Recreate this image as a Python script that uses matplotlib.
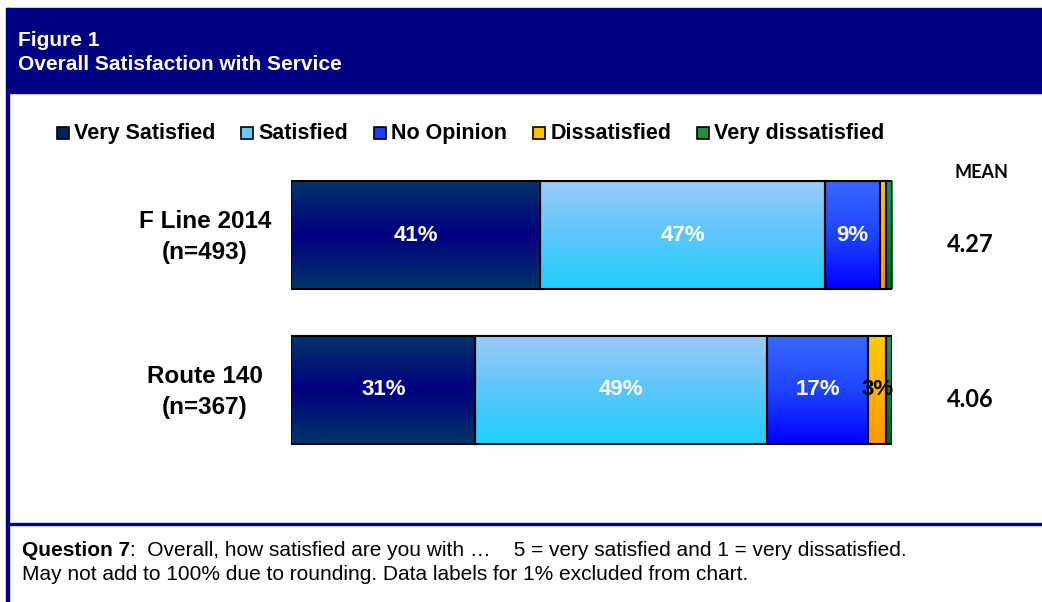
import numpy as np
import matplotlib
matplotlib.use("Agg")
import matplotlib.pyplot as plt
from matplotlib.colors import LinearSegmentedColormap
from matplotlib.patches import Rectangle

plt.rcParams["font.family"] = ["Liberation Sans", "DejaVu Sans"]

groupes = ["F Line 2014\n(n=493)", "Route 140\n(n=367)"]
categories = ["Very Satisfied", "Satisfied", "No Opinion", "Dissatisfied", "Very dissatisfied"]
f_line = [41, 47, 9, 1, 1]
route_140 = [31, 49, 17, 3, 1]
moyennes = ["4.27", "4.06"]

# couleurs en degrade (haut, milieu, bas) comme dans Excel
degrades = [
    ["#03366a", "#000080", "#03366a"],
    ["#9ccbfa", "#5cc6fb", "#1fd0fd"],
    ["#3a68ff", "#1f45ff", "#0000ff"],
    ["#ffcc00", "#ffb300", "#ff9900"],
    ["#2f8f5c", "#1a7a3c", "#006618"],
]
couleurs_legende = ["#002060", "#66ccff", "#1a3cff", "#ffc000", "#238c46"]
navy = "#000080"

W, H = 1042, 602
fig = plt.figure(figsize=(W / 100, H / 100), dpi=100)

# cadre : bandeau, bord gauche, ligne du bas
fig.patches.append(Rectangle((7 / W, 1 - 93 / H), 1 - 7 / W, 85 / H,
                             transform=fig.transFigure, color=navy, zorder=0))
fig.patches.append(Rectangle((6 / W, 0), 3 / W, 1 - 8 / H,
                             transform=fig.transFigure, color=navy, zorder=0))
fig.patches.append(Rectangle((7 / W, 1 - 525 / H), 1, 2 / H,
                             transform=fig.transFigure, color=navy, zorder=0))

fig.text(18 / W, 1 - 41 / H, "Figure 1", color="white", fontsize=15,
         fontweight="bold", va="center")
fig.text(18 / W, 1 - 64 / H, "Overall Satisfaction with Service", color="white",
         fontsize=15, fontweight="bold", va="center")

# axes des barres
ax = fig.add_axes([291 / W, 1 - 465 / H, 601 / W, 305 / H])
ax.set_axis_off()

lignes = [route_140, f_line]
noms = [groupes[1], groupes[0]]
moy = [moyennes[1], moyennes[0]]
gauche = np.zeros(2)
parts = []
for vals in lignes:
    v = np.array(vals, dtype=float)
    parts.append(v / v.sum() * 100)
parts = np.array(parts)

for j, cat in enumerate(categories):
    barres = ax.barh([0, 1], parts[:, j], left=gauche, height=0.7,
                     facecolor="none", edgecolor="black", linewidth=1.5, zorder=3)
    cmap = LinearSegmentedColormap.from_list(cat, degrades[j])
    for i, b in enumerate(barres):
        x0, y0 = b.get_x(), b.get_y()
        img = ax.imshow(np.linspace(0, 1, 256).reshape(-1, 1), cmap=cmap,
                        extent=[x0, x0 + b.get_width(), y0, y0 + b.get_height()],
                        origin="upper", aspect="auto", zorder=2)
        img.set_clip_path(b)
        val = lignes[i][j]
        if val > 1:
            coul = "black" if cat == "Dissatisfied" else "white"
            ax.text(x0 + b.get_width() / 2, i, f"{val}%", ha="center", va="center",
                    color=coul, fontsize=16, fontweight="bold", zorder=4)
    gauche += parts[:, j]

ax.set_xlim(0, 100)
ax.set_ylim(-0.484, 1.484)

for i in range(2):
    ax.text(-14.3, i - 0.015, noms[i], ha="center", va="center", fontsize=17.5,
            fontweight="bold", linespacing=1.45, clip_on=False)
    ax.text(113.0, i - 0.06, moy[i], ha="center", va="center",
            fontsize=17, fontweight="bold", family=["Lato", "DejaVu Sans"], clip_on=False)

fig.text(981 / W, 1 - 172 / H, "MEAN", ha="center", va="center", fontsize=13,
         fontweight="bold", family=["Lato", "DejaVu Sans"])

# legende faite a la main (alignee sur la ligne de base)
fig.canvas.draw()
rend = fig.canvas.get_renderer()
x = 57
for cat, c in zip(categories, couleurs_legende):
    fig.patches.append(Rectangle((x / W, 1 - 139 / H), 12 / W, 12 / H, transform=fig.transFigure,
                                 facecolor=c, edgecolor="black", linewidth=1.2))
    txt = fig.text((x + 17) / W, 1 - 139 / H, cat, fontsize=15.5, fontweight="bold",
                   va="baseline")
    x = txt.get_window_extent(rend).x1 + 26

# note de bas de page
t = fig.text(22 / W, 1 - 551 / H, "Question 7", fontsize=15, fontweight="bold", va="center")
bb = t.get_window_extent(rend)
fig.text(bb.x1 / W, 1 - 551 / H,
         ":  Overall, how satisfied are you with \u2026    5 = very satisfied and 1 = very dissatisfied.",
         fontsize=15, va="center")
fig.text(22 / W, 1 - 575 / H,
         "May not add to 100% due to rounding. Data labels for 1% excluded from chart.",
         fontsize=15, va="center")

fig.savefig("out.png", dpi=100)
